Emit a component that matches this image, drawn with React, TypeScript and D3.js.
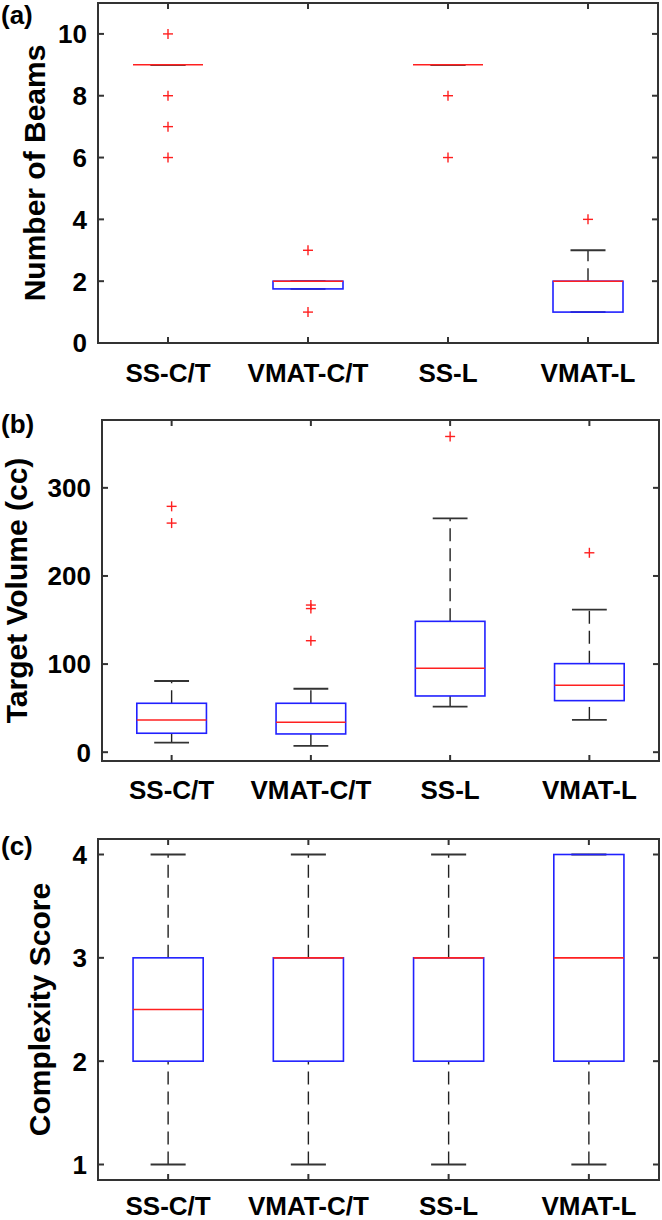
import React from "react";
import * as d3 from "d3";

const categories = ["SS-C/T", "VMAT-C/T", "SS-L", "VMAT-L"];

// (a) Number of Beams
const beamsLow = [9, 1.75, 9, 1];
const beamsQ1 = [9, 1.75, 9, 1];
const beamsMedian = [9, 2, 9, 2];
const beamsQ3 = [9, 2, 9, 2];
const beamsHigh = [9, 2, 9, 3];
const beamsOutliers = [[10, 8, 7, 6], [3, 1], [8, 6], [4]];
const beamsTicks = [0, 2, 4, 6, 8, 10];

// (b) Target Volume (cc)
const volLow = [10.9, 7.1, 51.7, 36.6];
const volQ1 = [21.5, 20.7, 63.8, 58.5];
const volMedian = [36.6, 34, 95.2, 76];
const volQ3 = [55.5, 55.5, 148.5, 100.5];
const volHigh = [80.8, 72, 265.3, 161.7];
const volOutliers = [[279, 260], [167, 163, 126.5], [358.3], [226.3]];
const volTicks = [0, 100, 200, 300];

// (c) Complexity Score
const cxLow = [1, 1, 1, 1];
const cxQ1 = [2, 2, 2, 2];
const cxMedian = [2.5, 3, 3, 3];
const cxQ3 = [3, 3, 3, 4];
const cxHigh = [4, 4, 4, 4];
const cxOutliers: number[][] = [[], [], [], []];
const cxTicks = [1, 2, 3, 4];

const FONT = "'Liberation Sans', Arial, sans-serif";
const AX = "#333";

type PanelProps = {
  letter: string;
  ylabel: string;
  left: number;
  right: number;
  top: number;
  bottom: number;
  domain: [number, number];
  ticks: number[];
  low: number[];
  q1: number[];
  med: number[];
  q3: number[];
  high: number[];
  outliers: number[][];
  ylabelX: number;
  letterY: number;
  xlabelOffset: number;
};

function Panel(p: PanelProps) {
  const x = d3
    .scaleBand<string>()
    .domain(categories)
    .range([p.left, p.right])
    .paddingInner(0)
    .paddingOuter(0);
  const bw = x.bandwidth();
  const cx = (c: string) => (x(c) as number) + bw / 2;
  const y = d3.scaleLinear().domain(p.domain).range([p.bottom, p.top]);
  const boxW = bw * 0.5;
  const capW = bw * 0.25;
  const tickLen = 6;
  return (
    <g>
      {categories.map((c, i) => {
        const xc = cx(c);
        return (
          <g key={c}>
            <line x1={xc} x2={xc} y1={y(p.q3[i])} y2={y(p.high[i])} stroke="#222" strokeWidth={1.4} strokeDasharray="13,7" />
            <line x1={xc} x2={xc} y1={y(p.low[i])} y2={y(p.q1[i])} stroke="#222" strokeWidth={1.4} strokeDasharray="13,7" />
            <line x1={xc - capW / 2} x2={xc + capW / 2} y1={y(p.high[i])} y2={y(p.high[i])} stroke="#333" strokeWidth={1.8} />
            <line x1={xc - capW / 2} x2={xc + capW / 2} y1={y(p.low[i])} y2={y(p.low[i])} stroke="#333" strokeWidth={1.8} />
            <rect
              x={xc - boxW / 2}
              y={y(p.q3[i])}
              width={boxW}
              height={Math.max(0, y(p.q1[i]) - y(p.q3[i]))}
              fill="none"
              stroke="#2020ff"
              strokeWidth={1.6}
            />
            <line x1={xc - boxW / 2} x2={xc + boxW / 2} y1={y(p.med[i])} y2={y(p.med[i])} stroke="#ff2020" strokeWidth={1.6} />
            {p.outliers[i].map((v, j) => (
              <g key={j} stroke="#ff2020" strokeWidth={1.4}>
                <line x1={xc - 5} x2={xc + 5} y1={y(v)} y2={y(v)} />
                <line x1={xc} x2={xc} y1={y(v) - 5} y2={y(v) + 5} />
              </g>
            ))}
          </g>
        );
      })}
      <rect x={p.left} y={p.top} width={p.right - p.left} height={p.bottom - p.top} fill="none" stroke={AX} strokeWidth={2} />
      {p.ticks.map((t) => (
        <g key={t}>
          <line x1={p.left} x2={p.left + tickLen} y1={y(t)} y2={y(t)} stroke={AX} strokeWidth={2} />
          <line x1={p.right} x2={p.right - tickLen} y1={y(t)} y2={y(t)} stroke={AX} strokeWidth={2} />
          <text x={p.left - 11} y={y(t)} dy="0.36em" textAnchor="end" fontFamily={FONT} fontWeight="bold" fontSize={26} fill="#000">
            {t}
          </text>
        </g>
      ))}
      {categories.map((c) => (
        <g key={c}>
          <line x1={cx(c)} x2={cx(c)} y1={p.bottom} y2={p.bottom - tickLen} stroke={AX} strokeWidth={2} />
          <line x1={cx(c)} x2={cx(c)} y1={p.top} y2={p.top + tickLen} stroke={AX} strokeWidth={2} />
          <text x={cx(c)} y={p.bottom + p.xlabelOffset} textAnchor="middle" fontFamily={FONT} fontWeight="bold" fontSize={26} fill="#000">
            {c}
          </text>
        </g>
      ))}
      <text
        transform={`translate(${p.ylabelX},${(p.top + p.bottom) / 2}) rotate(-90)`}
        textAnchor="middle"
        fontFamily={FONT}
        fontWeight="bold"
        fontSize={30}
        fill="#000"
      >
        {p.ylabel}
      </text>
      <text x={1} y={p.letterY} fontFamily={FONT} fontWeight="bold" fontSize={26} fill="#000">
        {p.letter}
      </text>
    </g>
  );
}

export default function App() {
  return (
    <svg
      width={662}
      height={1220}
      style={{ position: "absolute", left: 0, top: 0, background: "#fff", display: "block" }}
    >
      <rect x={0} y={0} width={662} height={1220} fill="#fff" />
      <Panel
        letter="(a)"
        ylabel="Number of Beams"
        left={98}
        right={658}
        top={3}
        bottom={343}
        domain={[0, 11]}
        ticks={beamsTicks}
        low={beamsLow}
        q1={beamsQ1}
        med={beamsMedian}
        q3={beamsQ3}
        high={beamsHigh}
        outliers={beamsOutliers}
        ylabelX={45}
        letterY={24}
        xlabelOffset={39}
      />
      <Panel
        letter="(b)"
        ylabel="Target Volume (cc)"
        left={102}
        right={659}
        top={420}
        bottom={761}
        domain={[-10, 377]}
        ticks={volTicks}
        low={volLow}
        q1={volQ1}
        med={volMedian}
        q3={volQ3}
        high={volHigh}
        outliers={volOutliers}
        ylabelX={27}
        letterY={433}
        xlabelOffset={38}
      />
      <Panel
        letter="(c)"
        ylabel="Complexity Score"
        left={98}
        right={659}
        top={839}
        bottom={1180}
        domain={[0.85, 4.15]}
        ticks={cxTicks}
        low={cxLow}
        q1={cxQ1}
        med={cxMedian}
        q3={cxQ3}
        high={cxHigh}
        outliers={cxOutliers}
        ylabelX={50}
        letterY={855}
        xlabelOffset={35}
      />
    </svg>
  );
}
